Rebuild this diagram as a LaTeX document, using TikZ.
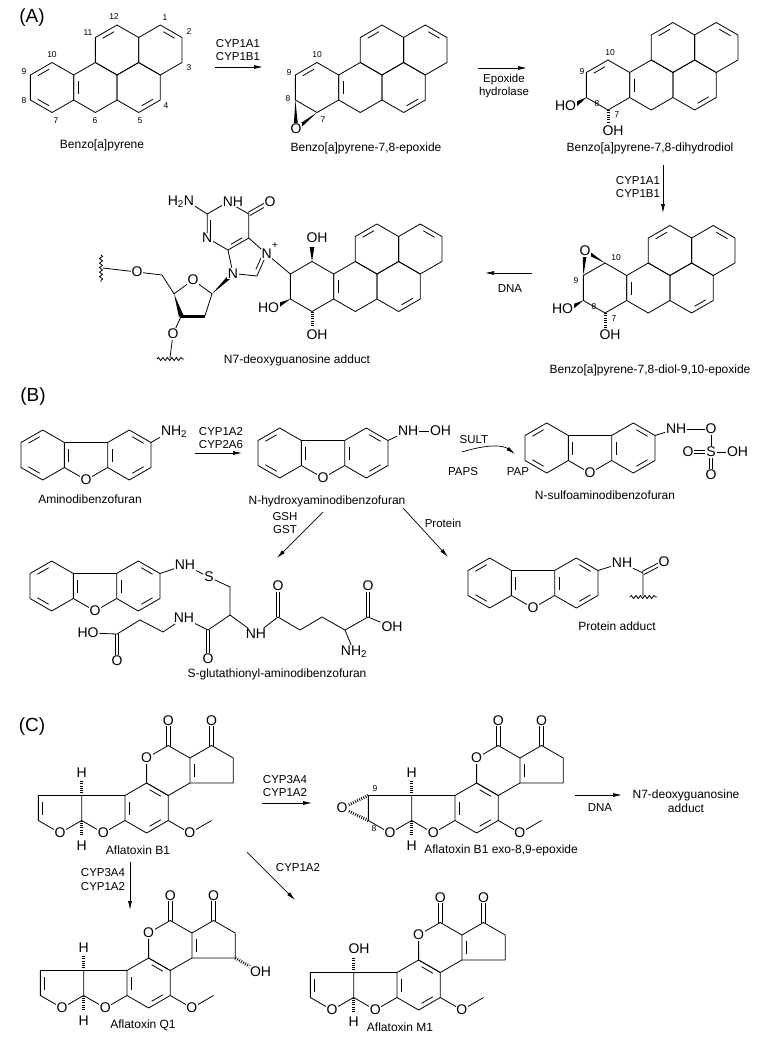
\documentclass[tikz,border=0pt]{standalone}
\usepackage{fontspec}
\setmainfont{Liberation Sans}
\usetikzlibrary{arrows.meta,calc,decorations.pathmorphing}
\newcommand{\hexa}[2]{\draw (#1,#2) +(30:25) -- +(90:25) -- +(150:25) -- +(210:25) -- +(270:25) -- +(330:25) -- cycle;}
\newcommand{\dbl}[4]{\path (#1,#2) +(#3:20) coordinate (da) +(#4:20) coordinate (db);
  \draw[shorten <=3.5pt,shorten >=3.5pt] (da) -- (db);}
\newcommand{\wdg}[2]{\fill (#1) -- ($(#2)!2.4pt!90:(#1)$) -- ($(#2)!2.4pt!-90:(#1)$) -- cycle;}
\newcommand{\dbx}[2]{\draw ($(#1)!1.8pt!90:(#2)$) -- ($(#2)!1.8pt!-90:(#1)$);
  \draw ($(#1)!1.8pt!-90:(#2)$) -- ($(#2)!1.8pt!90:(#1)$);}
\tikzset{
  atom/.style={font=\fontsize{14}{16}\selectfont,fill=white,inner sep=0.6pt},
  num/.style={font=\fontsize{8.5}{10}\selectfont,inner sep=0pt},
  enz/.style={font=\fontsize{11.5}{13}\selectfont,inner sep=0pt},
  cname/.style={font=\fontsize{12}{14}\selectfont,inner sep=0pt},
  panel/.style={font=\fontsize{19}{21}\selectfont,inner sep=0pt},
  rxn/.style={-{Latex[length=9pt,width=4pt]},line width=0.7pt},
  hashb/.style={line width=3pt,dash pattern=on 0.8pt off 1.5pt},
  wavy/.style={decorate,decoration={snake,amplitude=1.6pt,segment length=4.5pt}},
  pics/bap/.style={code={
    \foreach \cx/\cy in {0/0,43.3/0,86.6/0,64.95/-37.5,108.25/-37.5}{\hexa{\cx}{\cy}}
    \foreach \cx/\cy/\a/\b in {43.3/0/150/210,64.95/-37.5/210/270,108.25/-37.5/270/330,86.6/0/30/90}{\dbl{\cx}{\cy}{\a}{\b}}
    \coordinate (-c10) at (270:25); \coordinate (-c9) at (210:25);
    \coordinate (-c8) at (150:25); \coordinate (-c7) at (90:25);
  }},
  pics/dbf/.style={code={
    \hexa{-43.3}{-25} \hexa{43.3}{-25}
    \draw (-21.65,-37.5) -- (21.65,-37.5) (-21.65,-12.5) -- (0,0) -- (21.65,-12.5);
    \dbl{-43.3}{-25}{210}{270} \dbl{-43.3}{-25}{90}{150} \dbl{0}{-25}{150}{210}
    \dbl{43.3}{-25}{150}{210} \dbl{43.3}{-25}{270}{330} \dbl{43.3}{-25}{30}{90}
    \coordinate (-n) at (64.95,-37.5);
    \node[atom] (-o) at (0,0) {O};
  }},
  pics/afl/.style={code={
    \draw (-21.65,12.5) -- (-21.65,-12.5) -- (21.65,-12.5) -- (21.65,12.5) -- (0,25) -- cycle;
    \draw (21.65,-12.5) -- (64.95,-12.5) (21.65,12.5) -- (43.3,25) -- (64.95,12.5);
    \hexa{86.6}{0} \hexa{108.25}{-37.5}
    \draw (129.9,-50) -- (151.55,-62.5) -- (173.2,-50) -- (173.2,-25) -- (129.9,-25);
    \dbl{86.6}{0}{150}{210} \dbl{86.6}{0}{270}{330} \dbl{86.6}{0}{30}{90}
    \dbl{151.55}{-37.5}{150}{210}
    \draw (106.45,-62.5) -- (106.45,-82) (110.05,-62.5) -- (110.05,-82);
    \draw (149.75,-62.5) -- (149.75,-82) (153.35,-62.5) -- (153.35,-82);
    \draw (108.25,12.5) -- (129.9,25) -- (151.55,12.5);
    \coordinate (-c9) at (-21.65,-12.5); \coordinate (-c8) at (-21.65,12.5);
    \coordinate (-c3a) at (21.65,-12.5); \coordinate (-c8a) at (21.65,12.5);
    \coordinate (-c5r) at (173.2,-25);
    \foreach \ox/\oy/\on in {0/25/o1,43.3/25/o2,86.6/-50/o3,108.25/-87.5/o4,151.55/-87.5/o5,129.9/25/o6}
      {\node[atom] (-\on) at (\ox,\oy) {O};}
  }}
}
\begin{document}
\begin{tikzpicture}[x=1pt,y=-1pt,line width=0.8pt,line join=round]
\useasboundingbox (0,0) rectangle (757,1045);
%(A) benzo[a]pyrene
\node[panel] (pa) at (32,18) {(A)};
\pic (m1) at (52.05,87.5) {bap};
\dbl{52.05}{87.5}{210}{270} \dbl{52.05}{87.5}{90}{150}
\foreach \nx/\ny/\nt in {165/18/1,189/32/2,189/68/3,166/106/4,140/121/5,95/121/6,56/121/7,24/101/8,24/72/9,52/55/10,88/33/11,114/17/12}
  {\node[num] (n1-\nt) at (\nx,\ny) {\nt};}
\node[cname] (l1) at (102,145) {Benzo[a]pyrene};
\coordinate (r1a) at (215,67); \coordinate (r1b) at (263,67);
\draw[rxn] (r1a) -- (r1b);
\node[enz] (e1a) at (238,44) {CYP1A1};
\node[enz] (e1b) at (238,57) {CYP1B1};
%epoxide
\pic (m2) at (317,87.5) {bap};
\dbl{317}{87.5}{210}{270}
\coordinate (m2o) at (296,129);
\wdg{m2-c8}{m2o} \wdg{m2-c7}{m2o}
\node[atom] (m2ox) at (m2o) {O};
\foreach \nx/\ny/\nt in {317/55/10,289/73/9,288/99/8,323/120/7}
  {\node[num] (n2-\nt) at (\nx,\ny) {\nt};}
\node[cname] (l2) at (366,148) {Benzo[a]pyrene-7,8-epoxide};
\coordinate (r2a) at (478,68); \coordinate (r2b) at (527,68);
\draw[rxn] (r2a) -- (r2b);
\node[enz] (e2a) at (504,80) {Epoxide};
\node[enz] (e2b) at (504,93) {hydrolase};
%dihydrodiol
\pic (m3) at (608,85) {bap};
\dbl{608}{85}{210}{270}
\coordinate (m3ho) at (576,104); \wdg{m3-c8}{m3ho}
\coordinate (m3oh) at (608,123); \draw[hashb] (m3-c7) -- (m3oh);
\node[atom,anchor=east] (m3hox) at (577,105.5) {HO};
\node[atom] (m3ohx) at (613,131) {OH};
\foreach \nx/\ny/\nt in {610/53/10,582/72/9,597/104/8,617/115/7}
  {\node[num] (n3-\nt) at (\nx,\ny) {\nt};}
\node[cname] (l3) at (650,148) {Benzo[a]pyrene-7,8-dihydrodiol};
\coordinate (r3a) at (663,165); \coordinate (r3b) at (663,213);
\draw[rxn] (r3a) -- (r3b);
\node[enz] (e3a) at (638,181) {CYP1A1};
\node[enz] (e3b) at (638,194) {CYP1B1};
%diol epoxide
\pic (m4) at (605,288) {bap};
\coordinate (m4o) at (585,251);
\wdg{m4-c9}{m4o} \wdg{m4-c10}{m4o}
\node[atom] (m4ox) at (m4o) {O};
\coordinate (m4ho) at (572,307); \wdg{m4-c8}{m4ho}
\coordinate (m4oh) at (605,327); \draw[hashb] (m4-c7) -- (m4oh);
\node[atom,anchor=east] (m4hox) at (574,308.5) {HO};
\node[atom] (m4ohx) at (610,335) {OH};
\foreach \nx/\ny/\nt in {616/258/10,576/281/9,594/307/8,614/319/7}
  {\node[num] (n4-\nt) at (\nx,\ny) {\nt};}
\node[cname] (l4) at (650,370) {Benzo[a]pyrene-7,8-diol-9,10-epoxide};
\coordinate (r4a) at (532,273); \coordinate (r4b) at (485,273);
\draw[rxn] (r4a) -- (r4b);
\node[enz] (e4) at (510,289) {DNA};
%N7 adduct
\pic (a5) at (312,286.5) {bap};
\coordinate (a5oh1) at (312,247); \wdg{a5-c10}{a5oh1}
\coordinate (a5ho) at (277,306); \wdg{a5-c8}{a5ho}
\coordinate (a5oh2) at (312,326); \draw[hashb] (a5-c7) -- (a5oh2);
\coordinate (pn1) at (228,202); \coordinate (pc6) at (248.8,214);
\coordinate (pc5) at (248.8,238); \coordinate (pc4) at (228,250);
\coordinate (pn3) at (207.2,238); \coordinate (pc2) at (207.2,214);
\coordinate (pn7) at (266.7,254.1); \coordinate (pc8) at (256.9,276);
\coordinate (pn9) at (233,273.5); \coordinate (imc) at (246.7,258.3);
\draw (pn1) -- (pc6) -- (pc5) -- (pc4) -- (pn3) -- (pc2) -- cycle;
\draw (pc5) -- (pn7) -- (pc8) -- (pn9) -- (pc4);
\dbl{228}{226}{150}{210} \dbl{228}{226}{30}{90}
\draw[shorten <=3pt,shorten >=3pt] ($(imc)!0.78!(pn7)$) -- ($(imc)!0.78!(pc8)$);
\coordinate (po6) at (270,202); \dbx{pc6}{po6}
\coordinate (pnh) at (190,203); \draw (pc2) -- (pnh);
\draw (pn7) -- (a5-c9);
%sugar
\coordinate (ro4) at (193,280); \coordinate (r1) at (212,293.8);
\coordinate (r2) at (204.8,316.2); \coordinate (r3) at (181.2,316.2);
\coordinate (r4) at (174,293.8); \coordinate (r5) at (162,275);
\coordinate (ro5) at (137,272); \coordinate (ro3) at (173,334);
\draw (r4) -- (ro4) -- (r1) -- (r2);
\wdg{r4}{r3} \draw[line width=3pt] (r3) -- (r2);
\wdg{r1}{pn9}
\draw (r4) -- (r5) -- (ro5) -- (103,268);
\draw[wavy] (101,255) -- (101,282);
\draw (r3) -- (ro3) -- (170,358);
\draw[wavy] (157,359) -- (184,359);
\node[atom,anchor=east] (h2n) at (195,202) {H\textsubscript{2}N};
\node[atom] (pnhx) at (233,202) {NH};
\node[atom] (po6x) at (po6) {O};
\node[atom] (pn3x) at (pn3) {N};
\node[atom] (pn7x) at (pn7) {N};
\node[font=\fontsize{10}{10}\selectfont,inner sep=0pt] (plus) at (275,246) {+};
\node[atom] (pn9x) at (pn9) {N};
\node[atom] (ro4x) at (ro4) {O};
\node[atom] (ro5x) at (ro5) {O};
\node[atom] (ro3x) at (ro3) {O};
\node[atom] (a5oh1x) at (317,238) {OH};
\node[atom,anchor=east] (a5hox) at (280,307.5) {HO};
\node[atom] (a5oh2x) at (317,335) {OH};
\node[cname] (l5) at (297,360) {N7-deoxyguanosine adduct};
%(B) aminodibenzofuran
\node[panel] (pb) at (33,397) {(B)};
\pic (d1) at (86,480) {dbf};
\coordinate (d1nh) at (164,435); \draw (d1-n) -- (d1nh);
\node[atom,anchor=west] (d1nhx) at (160,432) {NH\textsubscript{2}};
\node[cname] (l6) at (90,499) {Aminodibenzofuran};
\coordinate (r5a) at (195,453); \coordinate (r5b) at (242,453);
\draw[rxn] (r5a) -- (r5b);
\node[enz] (e5a) at (221,432) {CYP1A2};
\node[enz] (e5b) at (221,445) {CYP2A6};
%N-hydroxy
\pic (d2) at (323,478) {dbf};
\node[atom,anchor=west] (d2nh) at (397,431) {NH};
\node[atom,anchor=west] (d2oh) at (429,431) {OH};
\draw (d2-n) -- (d2nh); \draw (d2nh) -- (d2oh);
\node[cname] (l7) at (327,501) {N-hydroxyaminodibenzofuran};
\coordinate (r6a) at (462,452); \coordinate (r6b) at (515,454);
\draw[rxn] (r6a) .. controls (488,444) and (503,445) .. (r6b);
\node[enz] (e6a) at (474,440) {SULT};
\node[enz] (e6b) at (463,472) {PAPS};
\node[enz] (e6c) at (518,472) {PAP};
%N-sulfo
\pic (d3) at (590,473) {dbf};
\node[atom,anchor=west] (d3nh) at (665,429) {NH};
\node[atom] (su1) at (711,429) {O};
\node[atom] (sus) at (711,452) {S};
\node[atom] (su2) at (688,452) {O};
\node[atom,anchor=west] (su3) at (726,452) {OH};
\node[atom] (su4) at (711,475) {O};
\draw (d3-n) -- (d3nh); \draw (d3nh) -- (su1); \draw (su1) -- (sus); \draw (sus) -- (su3);
\draw[double,double distance=2.2pt] (sus) -- (su2);
\draw[double,double distance=2.2pt] (sus) -- (su4);
\node[cname] (l8) at (605,495) {N-sulfoaminodibenzofuran};
\coordinate (r7a) at (323,512); \coordinate (r7b) at (277,558);
\draw[rxn] (r7a) -- (r7b);
\node[enz] (e7a) at (285,517) {GSH};
\node[enz] (e7b) at (285,530) {GST};
\coordinate (r8a) at (403,508); \coordinate (r8b) at (448,557);
\draw[rxn] (r8a) -- (r8b);
\node[enz] (e8) at (443,523) {Protein};
%S-glutathionyl
\pic (d4) at (95,611) {dbf};
\node[atom] (g-nh) at (185,565) {NH};
\node[atom] (g-s) at (209,577) {S};
\node[atom] (g-nh2) at (256,634) {NH};
\node[atom] (g-am) at (354,652) {NH\textsubscript{2}};
\node[atom] (g-oh) at (392,627) {OH};
\node[atom] (g-nh3) at (184,618) {NH};
\node[atom] (g-ho) at (88,633) {HO};
\coordinate (g-cb) at (230,587); \coordinate (g-ca) at (230,615);
\coordinate (g-c3) at (278,617); \coordinate (g-o3) at (278,586);
\coordinate (g-c4) at (300,630); \coordinate (g-c5) at (322,617);
\coordinate (g-c6) at (345,630); \coordinate (g-c7) at (368,617);
\coordinate (g-o7) at (368,586);
\coordinate (g-c2) at (208,630); \coordinate (g-o2) at (208,659);
\coordinate (g-c1b) at (163,632); \coordinate (g-c1a) at (140,620);
\coordinate (g-c1) at (117,634); \coordinate (g-o1) at (117,661);
\draw (d4-n) -- (g-nh); \draw (g-nh) -- (g-s); \draw (g-s) -- (g-cb) -- (g-ca);
\draw (g-ca) -- (g-nh2); \draw (g-nh2) -- (g-c3) -- (g-c4) -- (g-c5) -- (g-c6) -- (g-c7) -- (g-oh);
\draw (g-c6) -- (g-am);
\draw (g-ca) -- (g-c2) -- (g-nh3); \draw (g-nh3) -- (g-c1b) -- (g-c1a) -- (g-c1) -- (g-ho);
\dbx{g-c3}{g-o3} \dbx{g-c7}{g-o7} \dbx{g-c2}{g-o2} \dbx{g-c1}{g-o1}
\foreach \g in {o3,o7,o2,o1}{\node[atom] (g-\g x) at (g-\g) {O};}
\node[cname] (l9) at (277,674) {S-glutathionyl-aminodibenzofuran};
%protein adduct
\pic (d5) at (533,608) {dbf};
\node[atom] (p-nh) at (622,563) {NH};
\coordinate (p-c) at (643,573); \coordinate (p-o) at (664,562); \coordinate (p-w) at (643,596);
\draw (d5-n) -- (p-nh); \draw (p-nh) -- (p-c) -- (p-w);
\dbx{p-c}{p-o} \node[atom] (p-ox) at (p-o) {O};
\draw[wavy] (630,597) -- (657,597);
\node[cname] (l10) at (617,626) {Protein adduct};
%(C) aflatoxin B1
\node[panel] (pc) at (32,727) {(C)};
\pic (b1) at (60,808) {afl};
\dbl{60}{808}{150}{210}
\coordinate (b1h1) at (81.65,781); \coordinate (b1h2) at (81.65,836);
\draw[hashb] (b1-c3a) -- (b1h1); \draw[hashb] (b1-c8a) -- (b1h2);
\node[atom] (b1ht) at (81.65,773) {H};
\node[atom] (b1hb) at (81.65,846) {H};
\node[cname] (l11) at (138,850) {Aflatoxin B1};
\coordinate (r9a) at (262,803); \coordinate (r9b) at (312,803);
\draw[rxn] (r9a) -- (r9b);
\node[enz] (e9a) at (285,780) {CYP3A4};
\node[enz] (e9b) at (285,793) {CYP1A2};
%exo-8,9-epoxide
\pic (ep) at (390,808) {afl};
\coordinate (epo) at (342,808);
\draw[hashb] (ep-c9) -- (epo); \draw[hashb] (ep-c8) -- (epo);
\node[atom] (epox) at (epo) {O};
\coordinate (eph1) at (411.65,781); \coordinate (eph2) at (411.65,836);
\draw[hashb] (ep-c3a) -- (eph1); \draw[hashb] (ep-c8a) -- (eph2);
\node[atom] (epht) at (411.65,773) {H};
\node[atom] (ephb) at (411.65,846) {H};
\node[num] (n5-9) at (375,789) {9};
\node[num] (n5-8) at (374,829) {8};
\node[cname,anchor=west] (l12) at (424,850) {Aflatoxin B1 exo-8,9-epoxide};
\coordinate (r10a) at (575,795); \coordinate (r10b) at (622,795);
\draw[rxn] (r10a) -- (r10b);
\node[enz] (e10) at (600,808) {DNA};
\node[cname,align=center] (l13) at (686,801) {N7-deoxyguanosine\\adduct};
\coordinate (r11a) at (130,862); \coordinate (r11b) at (130,910);
\draw[rxn] (r11a) -- (r11b);
\node[enz] (e11a) at (103,873) {CYP3A4};
\node[enz] (e11b) at (103,887) {CYP1A2};
\coordinate (r12a) at (247,852); \coordinate (r12b) at (295,900);
\draw[rxn] (r12a) -- (r12b);
\node[enz] (e12) at (298,868) {CYP1A2};
%aflatoxin Q1
\pic (q1) at (62,983) {afl};
\dbl{62}{983}{150}{210}
\coordinate (q1h1) at (83.65,956); \coordinate (q1h2) at (83.65,1011);
\draw[hashb] (q1-c3a) -- (q1h1); \draw[hashb] (q1-c8a) -- (q1h2);
\node[atom] (q1ht) at (83.65,948) {H};
\node[atom] (q1hb) at (83.65,1021) {H};
\coordinate (q1oh) at (251,967); \draw[hashb] (q1-c5r) -- (q1oh);
\node[atom,anchor=west] (q1ohx) at (249,972) {OH};
\node[cname] (l14) at (143,1025) {Aflatoxin Q1};
%aflatoxin M1
\pic (mm) at (332,985) {afl};
\dbl{332}{985}{150}{210}
\coordinate (mmh1) at (353.65,958); \coordinate (mmh2) at (353.65,1013);
\draw[hashb] (mm-c3a) -- (mmh1); \draw[hashb] (mm-c8a) -- (mmh2);
\node[atom] (mmoh) at (359,949) {OH};
\node[atom] (mmhb) at (353.65,1022) {H};
\node[cname] (l15) at (400,1027) {Aflatoxin M1};
\end{tikzpicture}
\end{document}
